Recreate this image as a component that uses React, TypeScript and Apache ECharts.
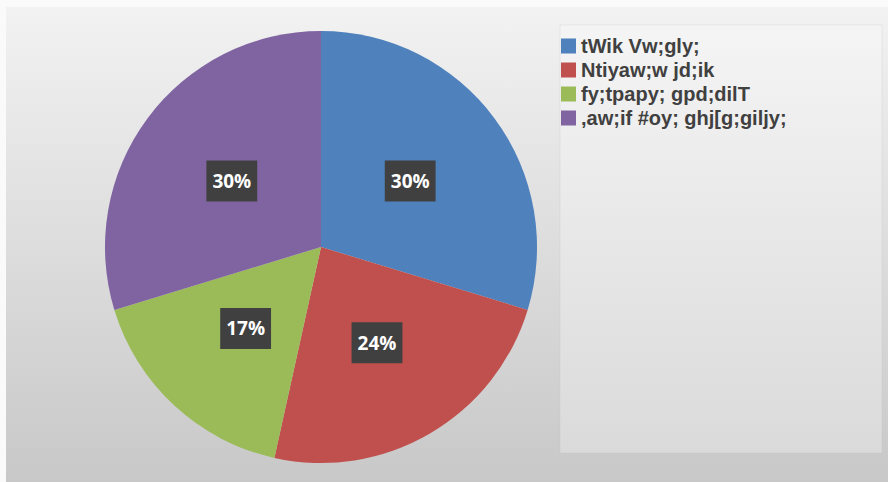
import React, { useEffect, useRef } from "react";
import * as echarts from "echarts";

const categories = ["tWik Vw;gly;", "Ntiyaw;w jd;ik", "fy;tpapy; gpd;dilT", ",aw;if #oy; ghj[g;giljy;"];
const values = [30, 24, 17, 30];
const colors = ["#4F81BD", "#C0504D", "#9BBB59", "#8064A2"];

export default function App() {
  const ref = useRef<HTMLDivElement>(null);
  useEffect(() => {
    if (!ref.current) return;
    const chart = echarts.init(ref.current, null, { renderer: "svg" });
    chart.setOption({
      animation: false,
      backgroundColor: {
        type: "linear",
        x: 0, y: 0, x2: 0, y2: 1,
        colorStops: [
          { offset: 0, color: "#f2f2f2" },
          { offset: 1, color: "#c8c8c8" },
        ],
      },
      graphic: [
        {
          type: "rect",
          shape: { x: 554, y: 18, width: 322, height: 428 },
          style: { fill: "rgba(255,255,255,0.3)", stroke: "rgba(190,190,190,0.25)", lineWidth: 1 },
          z: 0,
        },
      ],
      legend: {
        orient: "vertical",
        left: 550,
        top: 24,
        itemWidth: 15,
        itemHeight: 15,
        itemGap: 4,
        icon: "rect",
        textStyle: {
          fontFamily: "Liberation Sans, Arial, sans-serif",
          fontSize: 20,
          fontWeight: "bold",
          color: "#404040",
          lineHeight: 20,
        },
        data: categories,
      },
      series: [
        {
          type: "pie",
          center: [315, 240],
          radius: 216,
          startAngle: 90,
          clockwise: true,
          itemStyle: { borderWidth: 0 },
          label: {
            show: true,
            position: "inside",
            formatter: "{c}%",
            fontFamily: "Open Sans, Liberation Sans, Arial, sans-serif",
            fontSize: 19,
            fontWeight: "bold",
            color: "#ffffff",
            backgroundColor: "#404040",
            padding: [12, 6, 10, 6],
          },
          labelLine: { show: false },
          data: categories.map((name, i) => ({ name, value: values[i], itemStyle: { color: colors[i] } })),
        },
      ],
    });
    return () => chart.dispose();
  }, []);
  return (
    <div style={{ position: "fixed", left: 0, top: 0, width: 888, height: 482, background: "#fafafa" }}>
      <div ref={ref} style={{ position: "absolute", left: 6, top: 7, width: 882, height: 475 }} />
    </div>
  );
}
